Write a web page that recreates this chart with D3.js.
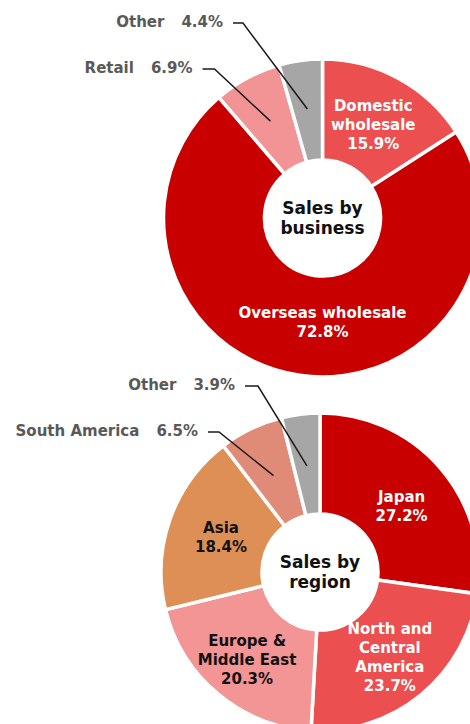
<!DOCTYPE html>
<html>
<head>
<meta charset="utf-8">
<script src="https://cdn.jsdelivr.net/npm/d3@7"></script>
<style>
  html, body { margin: 0; padding: 0; background: #fff; }
  svg { display: block; }
  text { font-family: "DejaVu Sans", Verdana, sans-serif; font-weight: bold; }
</style>
</head>
<body>
<svg id="chart" width="470" height="724"></svg>
<script>
// Sales composition by business
const businessNames  = ["Domestic wholesale", "Overseas wholesale", "Retail", "Other"];
const businessShares = [15.9, 72.8, 6.9, 4.4];
const businessLines  = [["Domestic", "wholesale"], ["Overseas wholesale"], ["Retail"], ["Other"]];
const businessColors = ["#EB4F50", "#C80000", "#F29495", "#A6A6A6"];

// Sales composition by region
const regionNames  = ["Japan", "North and Central America", "Europe & Middle East", "Asia", "South America", "Other"];
const regionShares = [27.2, 23.7, 20.3, 18.4, 6.5, 3.9];
const regionLines  = [["Japan"], ["North and", "Central", "America"], ["Europe &", "Middle East"], ["Asia"], ["South America"], ["Other"]];
const regionColors = ["#C80000", "#EB4F50", "#F39495", "#DD8F55", "#E08B78", "#A6A6A6"];

const svg = d3.select("#chart");
const fmt = v => d3.format(".1f")(v) + "%";

function donut(cfg) {
  const data = cfg.names.map((name, i) => ({
    name, value: cfg.shares[i], lines: cfg.lines[i], color: cfg.colors[i], i
  }));
  const pie = d3.pie().value(d => d.value).sort(null);
  const arc = d3.arc().innerRadius(cfg.inner).outerRadius(cfg.outer);
  const arcs = pie(data);

  const g = svg.append("g").attr("transform", `translate(${cfg.cx},${cfg.cy})`);

  g.selectAll("path.slice").data(arcs).join("path")
    .attr("class", "slice")
    .attr("d", arc)
    .attr("fill", d => d.data.color)
    .attr("stroke", "#fff")
    .attr("stroke-width", 3.5)
    .attr("stroke-linejoin", "miter");

  // polar helper: angle measured clockwise from 12 o'clock
  const polar = (a, r) => [r * Math.sin(a), -r * Math.cos(a)];

  arcs.forEach(a => {
    const lay = cfg.layout[a.index];
    const mid = (a.startAngle + a.endAngle) / 2;
    if (lay.inside) {
      const ang = lay.angle !== undefined ? lay.angle * Math.PI / 180 : mid;
      const [x, y] = polar(ang, lay.r);
      const lines = a.data.lines.concat([fmt(a.data.value)]);
      const lh = 19;
      const t = g.append("text")
        .attr("text-anchor", "middle")
        .attr("font-size", 15)
        .attr("fill", lay.fill);
      lines.forEach((s, k) => {
        t.append("tspan")
          .attr("x", x)
          .attr("y", y + (k - (lines.length - 1) / 2) * lh)
          .attr("dy", "0.36em")
          .text(s);
      });
    } else {
      // leader-line label outside the ring
      const [px, py] = polar(mid, lay.r);
      const ex = lay.elbow[0], ey = lay.elbow[1];
      g.append("path")
        .attr("d", `M${ex - lay.run},${ey}H${ex}L${px},${py}`)
        .attr("fill", "none")
        .attr("stroke", "#1a1a1a")
        .attr("stroke-width", 1.5);
      const t = g.append("text")
        .attr("x", ex - lay.run - 10)
        .attr("y", ey - 1.5)
        .attr("dy", "0.36em")
        .attr("text-anchor", "end")
        .attr("font-size", 15)
        .attr("fill", "#595959");
      t.append("tspan").text(a.data.lines[0]);
      t.append("tspan").attr("dx", 17).text(fmt(a.data.value));
    }
  });

  // centre title
  g.append("circle").attr("r", cfg.inner).attr("fill", "#fff");
  const title = g.append("text")
    .attr("text-anchor", "middle")
    .attr("font-size", 17)
    .attr("fill", "#111");
  cfg.title.forEach((s, k) => {
    title.append("tspan")
      .attr("x", 0)
      .attr("y", (k - (cfg.title.length - 1) / 2) * 20.5)
      .attr("dy", "0.36em")
      .text(s);
  });
}

donut({
  names: businessNames, shares: businessShares, lines: businessLines, colors: businessColors,
  cx: 322.5, cy: 218, outer: 159, inner: 58,
  title: ["Sales by", "business"],
  layout: [
    { inside: true, r: 106, fill: "#fff" },
    { inside: true, r: 104, angle: 180, fill: "#fff" },
    { inside: false, r: 110, elbow: [-108, -149], run: 12 },
    { inside: false, r: 110, elbow: [-79.5, -195], run: 10 }
  ]
});

donut({
  names: regionNames, shares: regionShares, lines: regionLines, colors: regionColors,
  cx: 320, cy: 572, outer: 159, inner: 58,
  title: ["Sales by", "region"],
  layout: [
    { inside: true, r: 105, angle: 51, fill: "#fff" },
    { inside: true, r: 110, fill: "#fff" },
    { inside: true, r: 114, fill: "#111" },
    { inside: true, r: 105, fill: "#111" },
    { inside: false, r: 107, elbow: [-101, -140], run: 11 },
    { inside: false, r: 107, elbow: [-62, -186], run: 13 }
  ]
});
</script>
</body>
</html>
